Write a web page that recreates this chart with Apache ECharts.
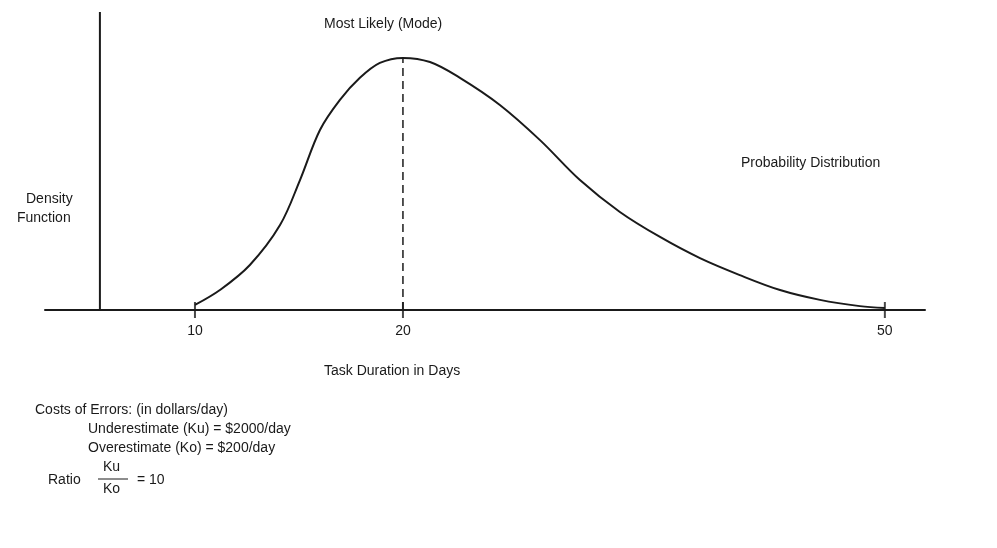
<!DOCTYPE html>
<html><head><meta charset="utf-8">
<script src="https://cdn.jsdelivr.net/npm/echarts@6/dist/echarts.min.js"></script>
<style>html,body{margin:0;background:#fff}#c{width:997px;height:548px}</style>
</head><body><div id="c"></div>
<script>
// x in display units (axis is drawn compressed: 10, 20, 50 days at these positions)
const tickPos = [10, 20, 43.17];
const tickLabels = ['10', '20', '50'];
const curveX = [10,11.2,12.64,14.09,15.05,16.01,16.97,17.93,18.89,20,21.3,22.74,24.66,26.59,28.51,30.43,32.36,34.28,36.2,38.13,40.05,41.97,43.17];
const curveY = [1.7,6.7,15.1,28.5,43.6,60.4,70.5,77.9,82.9,84.6,83.2,77.9,68.8,57.0,43.6,32.9,24.5,17.4,11.7,6.7,3.4,1.3,0.7];
const modeX = 20, modeY = 84.6, yAxisX = 5.43;

const F = 'Liberation Sans, Arial, sans-serif';
const chart = echarts.init(document.getElementById('c'));
const t = (x,y,s,extra) => Object.assign({type:'text',left:x,top:y,style:{text:s,font:'14px '+F,fill:'#1a1a1a'}},extra||{});
chart.setOption({
  animation:false,
  grid:{left:45,right:72,top:12,height:298},
  xAxis:{type:'value',min:2.79,max:45.1,splitLine:{show:false},
    axisLine:{lineStyle:{color:'#1a1a1a',width:2}},axisTick:{show:false},
    axisLabel:{customValues:tickPos,formatter:v=>tickLabels[tickPos.indexOf(v)],color:'#1a1a1a',fontSize:14,fontFamily:F,margin:14}},
  yAxis:{type:'value',min:0,max:100,show:false},
  series:[
    {type:'line',data:curveX.map((x,i)=>[x,curveY[i]]),smooth:0.35,symbol:'none',lineStyle:{color:'#1a1a1a',width:2}},
    {type:'line',data:[[modeX,0],[modeX,modeY]],symbol:'none',lineStyle:{color:'#1a1a1a',width:1.5,type:[8,5]}},
    {type:'line',data:[[yAxisX,-2.5],[yAxisX,100]],symbol:'none',lineStyle:{color:'#1a1a1a',width:2}},
    {type:'scatter',data:tickPos.map(x=>[x,0]),symbol:'rect',symbolSize:[2,16],itemStyle:{color:'#1a1a1a'}}
  ],
  graphic:[
    t(324,17,'Most Likely (Mode)'),
    t(741,156,'Probability Distribution'),
    t(26,192,'Density'),
    t(17,211,'Function'),
    t(324,364,'Task Duration in Days'),
    t(35,403,'Costs of Errors: (in dollars/day)'),
    t(88,422,'Underestimate (Ku) = $2000/day'),
    t(88,441,'Overestimate (Ko) = $200/day'),
    t(48,473,'Ratio'),
    t(103,460,'Ku'),
    t(103,482,'Ko'),
    {type:'line',shape:{x1:98,y1:479,x2:128,y2:479},style:{stroke:'#1a1a1a',lineWidth:1}},
    t(137,473,'= 10')
  ]
});
</script></body></html>
